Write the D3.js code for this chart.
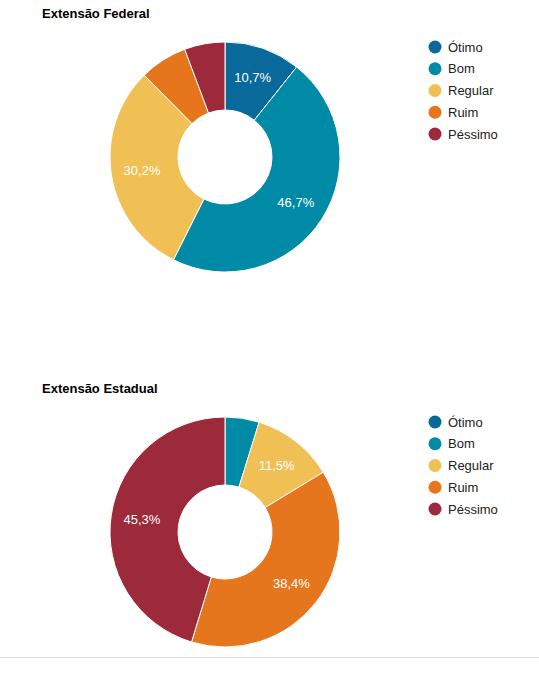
<!DOCTYPE html>
<html>
<head>
<meta charset="utf-8">
<script src="https://cdn.jsdelivr.net/npm/d3@7"></script>
<style>
  body { margin: 0; background: #fff; font-family: Arial, "Liberation Sans", sans-serif; }
</style>
</head>
<body>
<svg width="539" height="680"></svg>
<script>
// categorias e valores (%)
const categories = ['Ótimo', 'Bom', 'Regular', 'Ruim', 'Péssimo']
const colors = ['#08699a', '#008aa6', '#f0c055', '#e6761d', '#9d2a3a']
const federal = [10.7, 46.7, 30.2, 6.7, 5.7]
const estadual = [0, 4.8, 11.5, 38.4, 45.3]
const titles = ['Extensão Federal', 'Extensão Estadual']

const svg = d3.select('svg')
const fmt = v => d3.format('.1f')(v).replace('.', ',') + '%'

const color = d3.scaleOrdinal().domain(categories).range(colors)

const drawChart = (values, title, top) => {
    const g = svg.append('g').attr('transform', `translate(0,${top})`)

    g.append('text')
        .attr('x', 42).attr('y', 18)
        .attr('font-size', 13).attr('font-weight', 'bold')
        .attr('fill', '#000')
        .text(title)

    const data = categories.map((c, i) => ({cat: c, value: values[i]}))
    const pie = d3.pie().sort(null).value(d => d.value)
    const outer = 115, inner = 47
    const arc = d3.arc().innerRadius(inner).outerRadius(outer)
    const labelArc = d3.arc().innerRadius(84).outerRadius(84)

    const p = g.append('g').attr('transform', `translate(225,${157})`)
    const arcs = pie(data).filter(d => d.data.value > 0)

    p.selectAll('path').data(arcs)
        .enter().append('path')
            .attr('d', arc)
            .attr('fill', d => color(d.data.cat))
            .attr('stroke', '#fff')
            .attr('stroke-width', 1)

    p.selectAll('text').data(arcs.filter(d => d.data.value >= 10))
        .enter().append('text')
            .attr('transform', d => `translate(${labelArc.centroid(d)})`)
            .attr('text-anchor', 'middle')
            .attr('dy', '0.35em')
            .attr('font-size', 13)
            .attr('fill', '#fff')
            .text(d => fmt(d.data.value))

    const legend = g.append('g').attr('transform', 'translate(435,47)')
    const ly = d3.scalePoint().domain(categories).range([0, 87])
    const items = legend.selectAll('g').data(categories)
        .enter().append('g')
            .attr('transform', d => `translate(0,${ly(d)})`)
    items.append('circle').attr('r', 6.5).attr('fill', d => color(d))
    items.append('text')
        .attr('x', 13).attr('dy', '0.35em')
        .attr('font-size', 13).attr('fill', '#222')
        .text(d => d)
}

drawChart(federal, titles[0], 0)
drawChart(estadual, titles[1], 375)

svg.append('line')
    .attr('x1', 0).attr('x2', 539)
    .attr('y1', 657.5).attr('y2', 657.5)
    .attr('stroke', '#ddd')
</script>
</body>
</html>
